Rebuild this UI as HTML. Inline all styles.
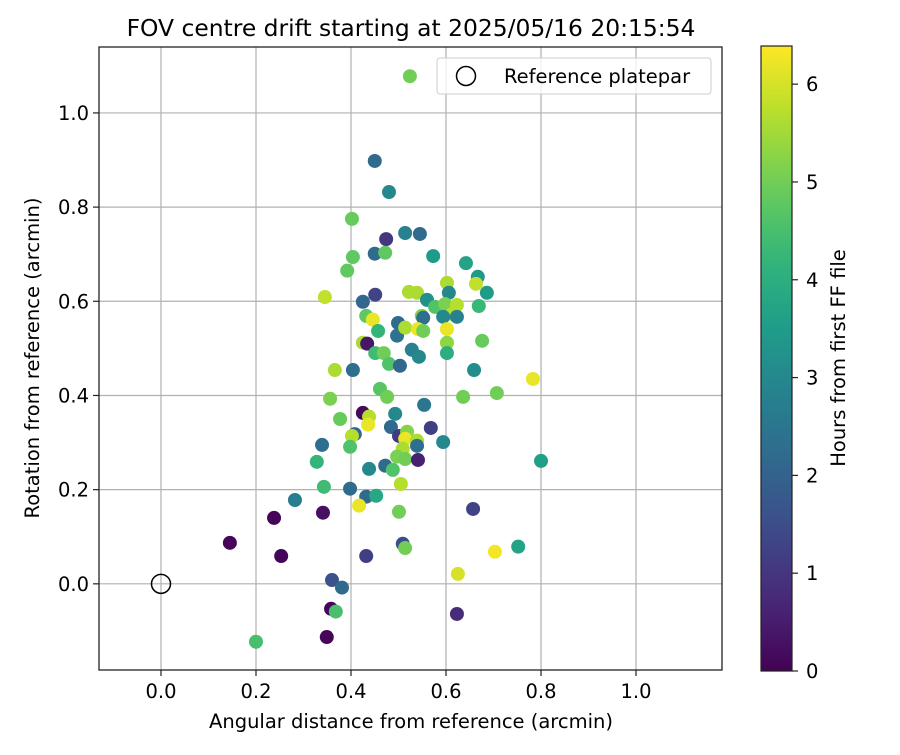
<!DOCTYPE html>
<html><head><meta charset="utf-8"><style>body{margin:0;background:#fff}svg{font-family:"DejaVu Sans","Liberation Sans",sans-serif}</style></head>
<body>
<svg id="c" width="900" height="750" xmlns="http://www.w3.org/2000/svg"></svg>
<script>
const xs=[.524,.450,.480,.402,.514,.545,.474,.450,.472,.404,.573,.392,.642,.667,.663,.602,.606,.686,.345,.425,.451,.522,.539,.560,.577,.598,.623,.613,.594,.623,.669,.432,.446,.457,.499,.497,.549,.552,.514,.541,.552,.602,.602,.602,.676,.425,.434,.451,.469,.528,.543,.480,.503,.366,.404,.659,.783,.707,.636,.461,.476,.356,.554,.425,.438,.436,.493,.377,.484,.568,.501,.518,.514,.539,.539,.408,.402,.339,.398,.594,.509,.497,.514,.541,.328,.438,.472,.488,.505,.343,.398,.432,.453,.417,.501,.341,.657,.282,.238,.145,.253,.509,.514,.752,.800,.703,.625,.623,.432,.360,.381,.358,.368,.349,.200];
const ys=[1.078,.898,.832,.775,.745,.743,.732,.701,.703,.694,.696,.665,.681,.652,.637,.639,.618,.618,.609,.599,.614,.620,.618,.603,.588,.594,.592,.573,.567,.567,.590,.569,.561,.537,.554,.527,.569,.565,.544,.541,.537,.541,.512,.490,.516,.512,.510,.490,.490,.497,.482,.467,.463,.454,.454,.454,.435,.405,.397,.414,.397,.393,.380,.363,.355,.338,.361,.350,.333,.331,.314,.323,.308,.304,.293,.318,.314,.295,.291,.301,.287,.270,.265,.263,.259,.244,.251,.242,.212,.206,.202,.185,.187,.166,.153,.151,.159,.178,.140,.087,.059,.085,.076,.079,.261,.068,.021,-.064,.059,.008,-.008,-.053,-.059,-.113,-.123];
const hours=[5.0,2.2,3.0,4.9,2.8,2.2,1.0,2.2,4.8,4.8,3.5,4.8,3.7,3.4,5.8,5.6,3.0,3.5,5.8,2.1,1.3,5.6,5.6,3.2,4.6,5.1,5.7,5.7,3.0,2.8,4.3,4.8,6.2,4.2,2.2,2.4,5.2,2.3,5.6,6.2,5.0,6.2,5.3,4.0,4.9,5.6,0.4,4.4,5.0,2.8,3.0,4.6,2.1,5.6,2.3,3.1,6.2,5.0,5.0,4.7,5.0,5.1,2.5,0.2,5.7,6.2,3.0,4.9,2.2,1.2,1.1,5.2,6.2,5.6,2.3,2.1,5.7,2.3,4.6,3.0,5.6,5.1,5.0,0.6,4.2,3.0,2.2,4.6,5.7,4.4,2.2,2.2,3.8,6.2,5.0,0.3,1.3,2.7,0.1,0.1,0.1,1.5,5.0,3.7,3.6,6.3,6.0,0.8,1.2,1.6,2.2,0.1,4.5,0.1,4.5];
const xTicks=[0.0,0.2,0.4,0.6,0.8,1.0];
const yTicks=[0.0,0.2,0.4,0.6,0.8,1.0];
const cTicks=[0,1,2,3,4,5,6];
const X0=99,X1=722,Y0=47,Y1=670,xmin=-0.1305,xmax=1.181,ymin=-0.183,ymax=1.14,hmax=6.39;
const sx=v=>X0+(v-xmin)/(xmax-xmin)*(X1-X0);
const sy=v=>Y1-(v-ymin)/(ymax-ymin)*(Y1-Y0);
const CB0=761,CB1=792,CT=46,CBt=671;
const sc=h=>CBt-h/hmax*(CBt-CT);
const stops=[[68,1,84],[72,40,120],[62,74,137],[49,104,142],[38,130,142],[31,158,137],[53,183,121],[109,205,89],[180,222,44],[253,231,37]];
function vir(t){t=Math.max(0,Math.min(1,t));const p=t*(stops.length-1),i=Math.min(Math.floor(p),stops.length-2),f=p-i;const a=stops[i],b=stops[i+1];return`rgb(${a.map((v,k)=>Math.round(v+(b[k]-v)*f)).join(',')})`;}
const svg=document.getElementById('c');const NS='http://www.w3.org/2000/svg';
function el(t,a,p){const e=document.createElementNS(NS,t);for(const k in a)e.setAttribute(k,a[k]);(p||svg).appendChild(e);return e;}
function tx(s,a){const e=el('text',a);e.textContent=s;return e;}
const FS=19.5;
const g=el('g',{});
xTicks.forEach(v=>{el('line',{x1:sx(v),x2:sx(v),y1:Y0,y2:Y1,stroke:'#b0b0b0','stroke-width':1.2},g);});
yTicks.forEach(v=>{el('line',{x1:X0,x2:X1,y1:sy(v),y2:sy(v),stroke:'#b0b0b0','stroke-width':1.2},g);});
const pts=el('g',{});
xs.forEach((x,i)=>{const c=el('circle',{cx:sx(x),cy:sy(ys[i]),r:7,fill:vir(hours[i]/hmax)},pts);});
const ref=el('circle',{cx:sx(0),cy:sy(0),r:9.5,fill:'none',stroke:'#000','stroke-width':1.5});

const fr=el('rect',{x:X0,y:Y0,width:X1-X0,height:Y1-Y0,fill:'none',stroke:'#222','stroke-width':1.3});

xTicks.forEach(v=>{el('line',{x1:sx(v),x2:sx(v),y1:Y1,y2:Y1+6,stroke:'#222','stroke-width':1.2});const t=tx(v.toFixed(1),{x:sx(v),y:Y1+28,'text-anchor':'middle','font-size':FS});});
yTicks.forEach(v=>{el('line',{x1:X0-6,x2:X0,y1:sy(v),y2:sy(v),stroke:'#222','stroke-width':1.2});const t=tx(v.toFixed(1),{x:X0-10,y:sy(v)+7,'text-anchor':'end','font-size':FS});});
let t=tx('FOV centre drift starting at 2025/05/16 20:15:54',{x:411,y:36,'text-anchor':'middle','font-size':23.4});
t=tx('Angular distance from reference (arcmin)',{x:411,y:728,'text-anchor':'middle','font-size':FS});
t=tx('Rotation from reference (arcmin)',{x:0,y:0,'text-anchor':'middle','font-size':FS,transform:'translate(39,358) rotate(-90)'});
const lg=el('g',{});
el('rect',{x:437,y:58,width:274,height:36,rx:3,fill:'#fff','fill-opacity':0.8,stroke:'#ccc'},lg);
el('circle',{cx:466,cy:76,r:9.5,fill:'none',stroke:'#000','stroke-width':1.5},lg);
const lt=el('text',{x:504,y:83,'font-size':FS},lg);lt.textContent='Reference platepar';
const defs=el('defs',{});const gr=el('linearGradient',{id:'vg',x1:0,y1:1,x2:0,y2:0},defs);
for(let i=0;i<=20;i++){el('stop',{offset:i/20,'stop-color':vir(i/20)},gr);}
const cb=el('rect',{x:CB0,y:CT,width:CB1-CB0,height:CBt-CT,fill:'url(#vg)',stroke:'#222','stroke-width':1.2});

cTicks.forEach(v=>{el('line',{x1:CB1,x2:CB1+6,y1:sc(v),y2:sc(v),stroke:'#222','stroke-width':1.2});const t=tx(String(v),{x:CB1+14,y:sc(v)+7,'font-size':FS});});
t=tx('Hours from first FF file',{x:0,y:0,'text-anchor':'middle','font-size':FS,transform:'translate(845,358) rotate(-90)'});
</script>
</body></html>
